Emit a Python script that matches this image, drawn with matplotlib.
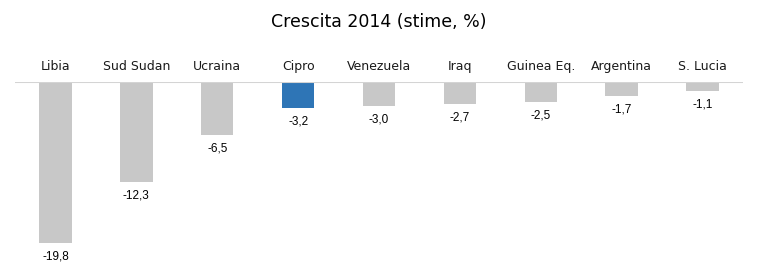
import matplotlib
matplotlib.use("Agg")
import matplotlib.pyplot as plt

countries = ["Libia", "Sud Sudan", "Ucraina", "Cipro", "Venezuela",
             "Iraq", "Guinea Eq.", "Argentina", "S. Lucia"]
growth = [-19.8, -12.3, -6.5, -3.2, -3.0, -2.7, -2.5, -1.7, -1.1]
highlight = "Cipro"

fig = plt.figure(figsize=(7.58, 2.71), dpi=100)
ax = fig.add_axes([15 / 758, 0, 728 / 758, 189 / 271])

colors = ["#2E75B6" if c == highlight else "#C8C8C8" for c in countries]
x = range(len(countries))
ax.bar(x, growth, width=0.4, color=colors, zorder=2)

ax.set_xlim(-0.5, len(countries) - 0.5)
ax.set_ylim(-23.25, 0)
ax.axhline(0, color="#D4D4D4", linewidth=1.5, zorder=3)

for i, (c, v) in enumerate(zip(countries, growth)):
    ax.text(i, 1.95, c, ha="center", va="center", fontsize=9,
            family="DejaVu Sans", color="#1a1a1a", clip_on=False)
    ax.annotate(f"{v:.1f}".replace(".", ","), (i, v), xytext=(0, -9.5),
                textcoords="offset points", ha="center", va="center",
                fontsize=8.5, family="Liberation Sans", color="#000000")

ax.axis("off")
fig.text(379 / 758, 1 - 22 / 271, "Crescita 2014 (stime, %)", ha="center",
         va="center", fontsize=12.5, family="DejaVu Sans", color="#000000")

fig.savefig("out.png", dpi=100)
